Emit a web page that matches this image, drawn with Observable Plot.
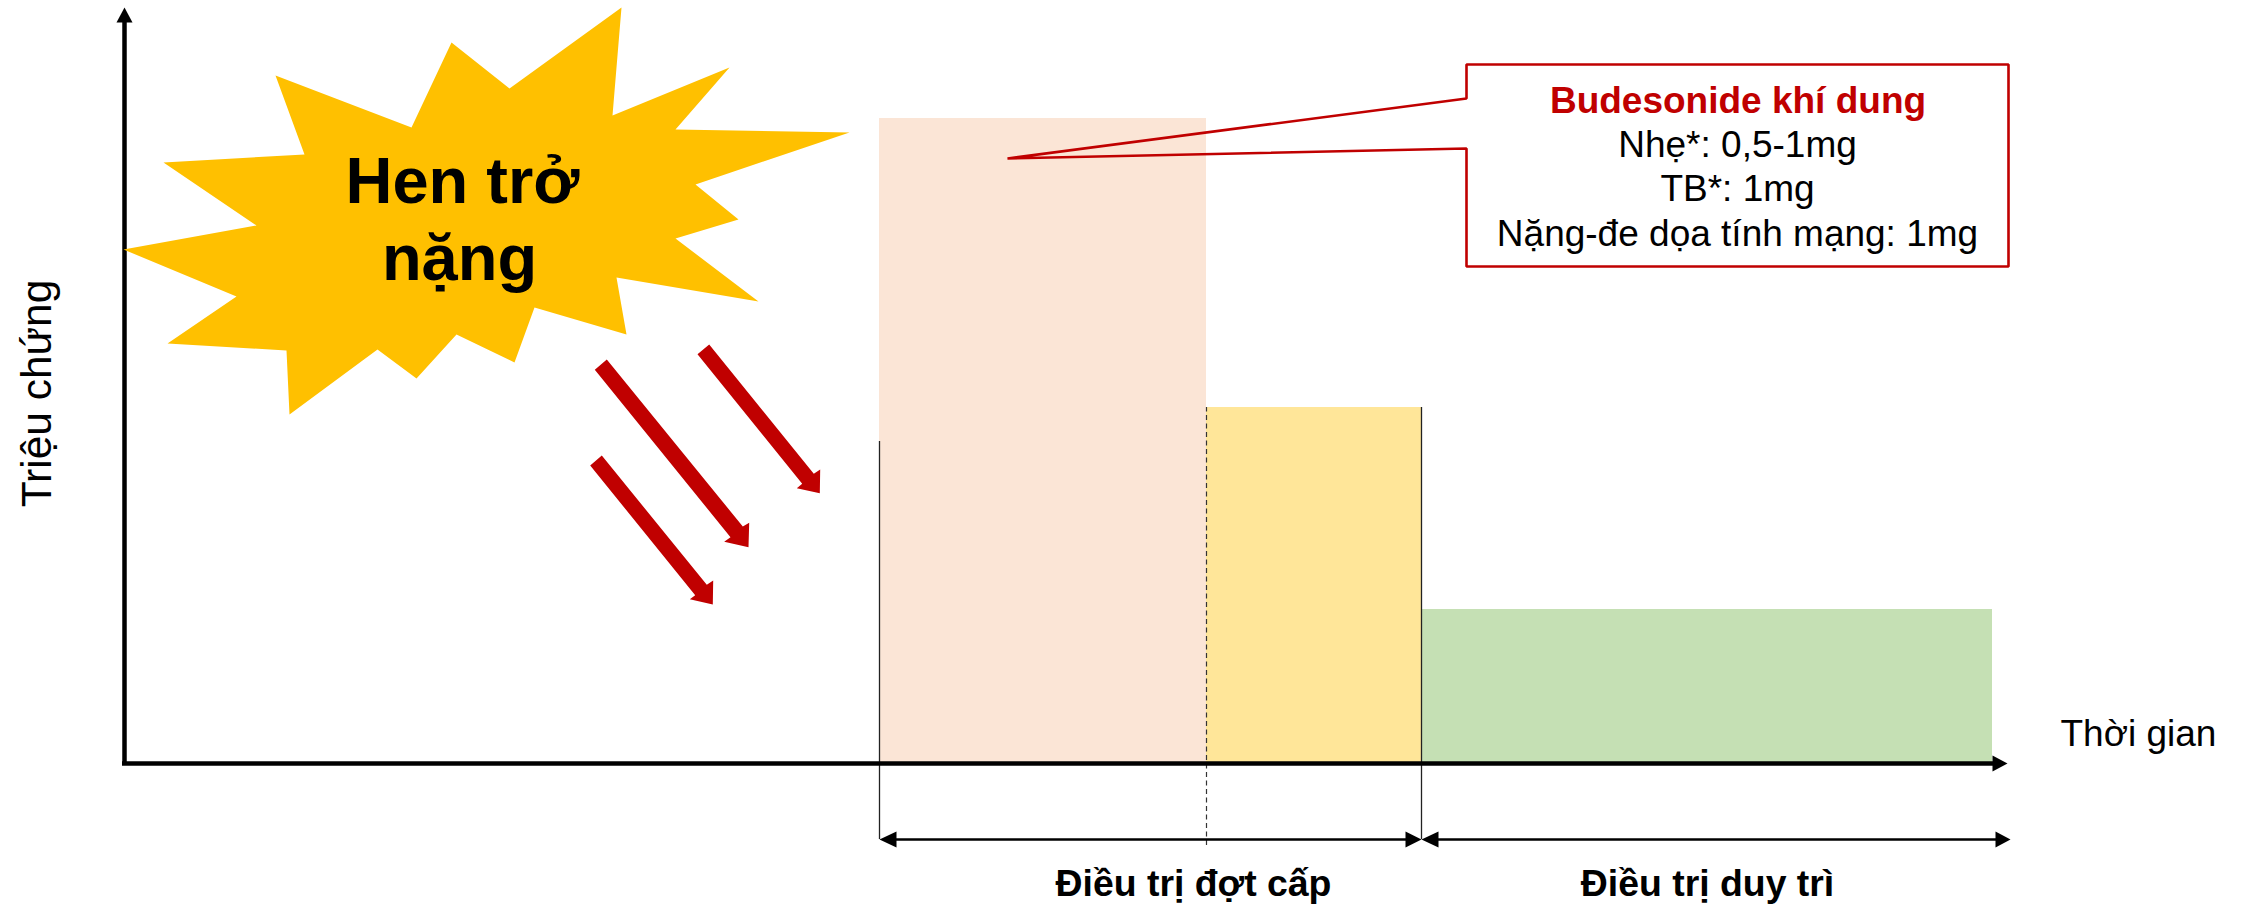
<!DOCTYPE html>
<html lang="vi">
<head>
<meta charset="utf-8">
<title>Điều trị hen trở nặng</title>
<script src="https://cdn.jsdelivr.net/npm/d3@7"></script>
<script src="https://cdn.jsdelivr.net/npm/@observablehq/plot@0.6"></script>
<style>
  html, body { margin: 0; padding: 0; background: #fff; }
  svg { display: block; }
</style>
</head>
<body>
<div id="chart"></div>
<script>
// Treatment phases: [start, end, symptom level] on the time / symptom axes.
const phases = [
  [755, 1082, 644, "#FBE5D6"],
  [1082, 1297, 355, "#FFE699"],
  [1297, 1868, 153, "#C5E0B4"]
];

// Outline of the exacerbation burst.
const burst = [
  [497, 755], [488, 647], [605, 695], [551, 633], [725, 630], [571, 578], [614, 543],
  [551, 524], [634, 461], [492, 485], [502, 428], [410, 455], [390, 400], [332, 428],
  [292, 384], [253, 413], [165, 348], [162, 412], [43, 419], [112, 466], [-1, 513],
  [132, 537], [39, 600], [180, 608], [151, 687], [287, 635], [327, 720], [385, 674]
];

// Block arrows falling from the burst towards the treatment phase.
const fallingArrows = [
  [[584.7, 418], [689.3, 288.7], [695.7, 293], [695.3, 269.3], [672.3, 274.3], [677.7, 278.7], [573, 408.3]],
  [[482.3, 403], [618.3, 236], [624.7, 239.7], [624, 215.3], [599.7, 220.7], [606, 225.3], [470.3, 392.7]],
  [[477.3, 307], [582.3, 177.7], [588.7, 182], [588.3, 158], [565.3, 163.3], [570.7, 167.3], [465.7, 297]]
];

// Callout frame, with its pointer reaching into the first phase.
const callout = [
  [1342, 698], [1884, 698], [1884, 496], [1342, 496], [1342, 614], [883, 604], [1342, 664]
];

// Arrowheads for both axes and for the two treatment spans.
const arrowheads = [
  [[0, 755], [8, 740], [-8, 740]],
  [[1883, -1], [1868, 7], [1868, -9]],
  [[755, -77], [772, -69], [772, -85]],
  [[1297, -77], [1281, -69], [1281, -85]],
  [[1297, -77], [1314, -69], [1314, -85]],
  [[1886, -77], [1871, -69], [1871, -85]]
];

const calloutTitle = "Budesonide khí dung";
const calloutLines = ["Nhẹ*: 0,5-1mg", "TB*: 1mg", "Nặng-đe dọa tính mạng: 1mg"];
const calloutBaselines = [606, 562, 517];
const burstLines = ["Hen trở", "nặng"];
const burstCentres = [338, 335];
const burstBaselines = [560, 483];
const spanLabels = ["Điều trị đợt cấp", "Điều trị duy trì"];
const spanCentres = [1069, 1583];

const font = "Liberation Sans, Arial, sans-serif";
const red = "#C00000";
const px = d => d[0], py = d => d[1];

const polygon = (points, options) =>
  Plot.line(points, {x: px, y: py, curve: "linear-closed", ...options});

const chart = Plot.plot({
  width: 2244,
  height: 906,
  margin: 0,
  style: {background: "#fff", fontFamily: font},
  x: {axis: null, domain: [-124, 2120], range: [0, 2244]},
  y: {axis: null, domain: [-144, 762], range: [906, 0]},
  marks: [
    // Phase blocks
    Plot.rect(phases, {x1: d => d[0], x2: d => d[1], y1: 0, y2: d => d[2], fill: d => d[3]}),

    // Phase boundaries
    Plot.ruleX([755], {y1: -77, y2: 321, stroke: "#222", strokeWidth: 1.3}),
    Plot.ruleX([1297], {y1: -77, y2: 355, stroke: "#222", strokeWidth: 1.3}),
    Plot.ruleX([1082], {y1: -83, y2: 355, stroke: "#333", strokeWidth: 1.2, strokeDasharray: "5,3.5"}),

    // Axes
    Plot.ruleX([0], {y1: -1, y2: 742, stroke: "#000", strokeWidth: 4.5}),
    Plot.ruleY([-1], {x1: -2, x2: 1870, stroke: "#000", strokeWidth: 4.5}),

    // Treatment spans
    Plot.ruleY([-77], {x1: 765, x2: 1290, stroke: "#000", strokeWidth: 2.6}),
    Plot.ruleY([-77], {x1: 1305, x2: 1875, stroke: "#000", strokeWidth: 2.6}),
    ...arrowheads.map(head => polygon(head, {fill: "#000", stroke: "none"})),

    // Burst and falling arrows
    polygon(burst, {fill: "#FFC000", stroke: "none"}),
    ...fallingArrows.map(arrow => polygon(arrow, {fill: red, stroke: "none"})),

    // Callout
    polygon(callout, {fill: "none", stroke: red, strokeWidth: 2.6, strokeLinejoin: "miter"}),
    Plot.text([calloutTitle], {x: 1613.5, y: 650, text: d => d, fontFamily: font, fontSize: 37, fontWeight: "bold", fill: red, lineAnchor: "bottom"}),
    Plot.text(calloutLines, {x: 1613, y: (d, i) => calloutBaselines[i], text: d => d, fontFamily: font, fontSize: 37, fill: "#000", lineAnchor: "bottom"}),

    // Burst title
    Plot.text(burstLines, {x: (d, i) => burstCentres[i], y: (d, i) => burstBaselines[i], text: d => d, fontFamily: font, fontSize: 65, fontWeight: "bold", fill: "#000", lineAnchor: "bottom"}),

    // Axis titles
    Plot.text(["Thời gian"], {x: 1936, y: 17, text: d => d, fontFamily: font, fontSize: 37, fill: "#000", textAnchor: "start", lineAnchor: "bottom"}),
    Plot.text(["Triệu chứng"], {x: -74, y: 369, text: d => d, fontFamily: font, fontSize: 42.5, fill: "#000", rotate: -90, lineAnchor: "bottom"}),

    // Span labels
    Plot.text(spanLabels, {x: (d, i) => spanCentres[i], y: -133, text: d => d, fontFamily: font, fontSize: 37.4, fontWeight: "bold", fill: "#000", lineAnchor: "bottom"})
  ]
});

document.getElementById("chart").append(chart);
</script>
</body>
</html>
